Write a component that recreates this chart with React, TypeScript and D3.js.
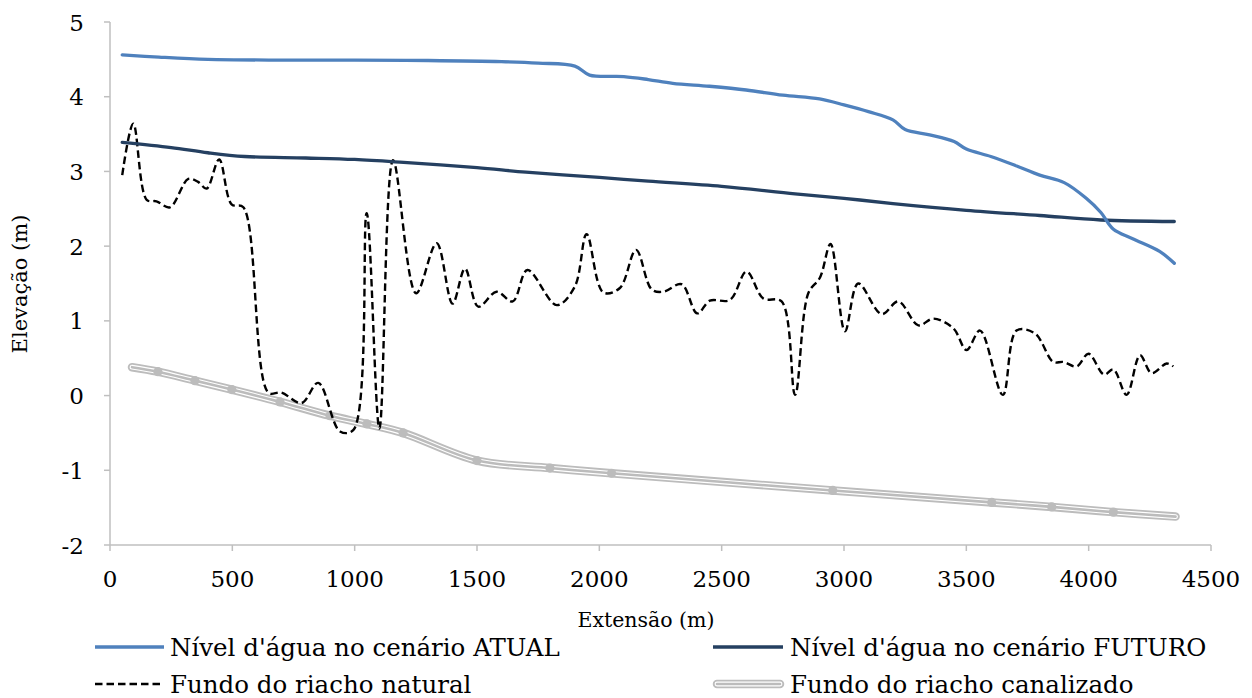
import React from "react";
import * as d3 from "d3";

// Distance along the stream (m) and elevation (m) for each profile
const atualX = [50, 200, 400, 700, 1000, 1300, 1600, 1750, 1900, 1960, 2100, 2200, 2300, 2450, 2600, 2750, 2900, 3000, 3100, 3200, 3250, 3350, 3450, 3500, 3600, 3700, 3800, 3900, 3990, 4050, 4100, 4180, 4290, 4350];
const atualY = [4.56, 4.53, 4.5, 4.49, 4.49, 4.485, 4.47, 4.45, 4.41, 4.29, 4.27, 4.23, 4.18, 4.14, 4.09, 4.02, 3.97, 3.89, 3.8, 3.69, 3.56, 3.49, 3.4, 3.3, 3.2, 3.08, 2.95, 2.85, 2.64, 2.45, 2.23, 2.1, 1.93, 1.77];

const futuroX = [50, 250, 400, 550, 800, 1000, 1200, 1500, 1700, 2000, 2200, 2500, 2800, 3000, 3200, 3500, 3800, 4050, 4350];
const futuroY = [3.39, 3.32, 3.25, 3.2, 3.18, 3.16, 3.12, 3.05, 2.99, 2.92, 2.87, 2.8, 2.7, 2.64, 2.57, 2.48, 2.41, 2.35, 2.33];

const naturalX = [50, 95, 150, 190, 245, 320, 360, 395, 446, 497, 545, 647, 700, 783, 851, 940, 995, 1049, 1101, 1157, 1251, 1335, 1400, 1451, 1505, 1580, 1646, 1706, 1826, 1900, 1948, 2016, 2084, 2150, 2214, 2262, 2336, 2400, 2452, 2534, 2602, 2670, 2745, 2800, 2854, 2902, 2945, 3004, 3058, 3154, 3222, 3304, 3365, 3447, 3501, 3556, 3649, 3705, 3781, 3855, 3896, 3951, 3999, 4063, 4101, 4155, 4210, 4257, 4319, 4346];
const naturalY = [2.95, 3.64, 2.62, 2.6, 2.52, 2.9, 2.86, 2.77, 3.16, 2.56, 2.52, 0.04, 0.04, -0.1, 0.17, -0.48, -0.46, 2.44, -0.44, 3.15, 1.37, 2.04, 1.23, 1.7, 1.19, 1.39, 1.26, 1.68, 1.21, 1.46, 2.16, 1.38, 1.44, 1.95, 1.42, 1.39, 1.49, 1.1, 1.27, 1.28, 1.66, 1.3, 1.26, 0.01, 1.37, 1.58, 2.03, 0.86, 1.5, 1.09, 1.26, 0.94, 1.03, 0.9, 0.61, 0.87, 0.01, 0.87, 0.83, 0.45, 0.45, 0.39, 0.56, 0.28, 0.35, 0.01, 0.54, 0.3, 0.43, 0.39];

const canalX = [90, 196, 347, 498, 695, 899, 1050, 1198, 1500, 1798, 2050, 2954, 3604, 3849, 4101, 4355];
const canalY = [0.38, 0.32, 0.2, 0.08, -0.085, -0.27, -0.38, -0.5, -0.87, -0.97, -1.04, -1.27, -1.43, -1.49, -1.56, -1.62];

const xTicks = [0, 500, 1000, 1500, 2000, 2500, 3000, 3500, 4000, 4500];
const yTicks = [-2, -1, 0, 1, 2, 3, 4, 5];

const legendLabels = [
  "Nível d'água no cenário ATUAL",
  "Nível d'água no cenário FUTURO",
  "Fundo do riacho natural",
  "Fundo do riacho canalizado",
];

const W = 1252;
const H = 698;
const FONT = "DejaVu Serif";
const AXIS = "#bfbfbf";
const C_ATUAL = "#4f81bd";
const C_FUTURO = "#254061";
const C_CANAL = "#bcbcbc";

type Pt = [number, number];
const zip = (xs: number[], ys: number[]): Pt[] => xs.map((x, i) => [x, ys[i]]);

// Compound grey "double" stroke used for the channelized bed
function CanalStroke({ d }: { d: string }) {
  return (
    <g fill="none" strokeLinecap="round" strokeLinejoin="round">
      <path d={d} stroke={C_CANAL} strokeWidth={8.5} />
      <path d={d} stroke="#fff" strokeWidth={4.8} />
      <path d={d} stroke={C_CANAL} strokeWidth={2.6} />
    </g>
  );
}

export default function App() {
  const x = d3.scaleLinear().domain([0, 4500]).range([110, 1211]);
  const y = d3.scaleLinear().domain([-2, 5]).range([545, 22]);

  const line = d3
    .line<Pt>()
    .x((d) => x(d[0]))
    .y((d) => y(d[1]))
    .curve(d3.curveCatmullRom.alpha(0.5));

  const atual = line(zip(atualX, atualY)) || "";
  const futuro = line(zip(futuroX, futuroY)) || "";
  const natural = line(zip(naturalX, naturalY)) || "";
  const canalPts = zip(canalX, canalY);
  const canal = line(canalPts) || "";

  const [x0, x1] = x.range();
  const [yb, yt] = y.range();

  const row1 = 647;
  const row2 = 684;

  return (
    <svg width={W} height={H} style={{ position: "absolute", left: 0, top: 0, background: "#fff" }}>
      <rect x={0} y={0} width={W} height={H} fill="#fff" />

      {/* axes */}
      <line x1={x0} x2={x0} y1={yt} y2={yb} stroke={AXIS} strokeWidth={1.5} />
      <line x1={x0} x2={x1} y1={yb} y2={yb} stroke={AXIS} strokeWidth={1.5} />
      {yTicks.map((t) => (
        <g key={"y" + t}>
          <line x1={x0 - 6} x2={x0} y1={y(t)} y2={y(t)} stroke={AXIS} strokeWidth={1.5} />
          <text x={84} y={y(t) + 8.5} textAnchor="end" fontSize={23} fontFamily={FONT} fill="#000">
            {t}
          </text>
        </g>
      ))}
      {xTicks.map((t) => (
        <g key={"x" + t}>
          <line x1={x(t)} x2={x(t)} y1={yb} y2={yb + 6} stroke={AXIS} strokeWidth={1.5} />
          <text x={x(t)} y={587} textAnchor="middle" fontSize={23} fontFamily={FONT} fill="#000">
            {t}
          </text>
        </g>
      ))}

      {/* axis titles */}
      <text x={646} y={627} textAnchor="middle" fontSize={20.5} fontFamily={FONT} fill="#000">
        Extensão (m)
      </text>
      <text transform="translate(27,284) rotate(-90)" textAnchor="middle" fontSize={21} fontFamily={FONT} fill="#000">
        Elevação (m)
      </text>

      {/* channelized stream bed */}
      <CanalStroke d={canal} />
      {canalPts.slice(1, -1).map((p, i) => (
        <circle key={i} cx={x(p[0])} cy={y(p[1])} r={4.6} fill={C_CANAL} />
      ))}

      {/* natural stream bed */}
      <path d={natural} fill="none" stroke="#000" strokeWidth={2.4} strokeDasharray="7.5 4" />

      {/* water levels */}
      <path d={futuro} fill="none" stroke={C_FUTURO} strokeWidth={3.3} strokeLinecap="round" />
      <path d={atual} fill="none" stroke={C_ATUAL} strokeWidth={3.3} strokeLinecap="round" />

      {/* legend */}
      <g fontSize={24.5} fontFamily={FONT} fill="#000">
        <line x1={95} x2={164} y1={row1} y2={row1} stroke={C_ATUAL} strokeWidth={3.3} />
        <text x={170} y={row1 + 8.8}>{legendLabels[0]}</text>

        <line x1={713} x2={783} y1={row1} y2={row1} stroke={C_FUTURO} strokeWidth={3.3} />
        <text x={790} y={row1 + 8.8}>{legendLabels[1]}</text>

        <line x1={95} x2={164} y1={row2} y2={row2} stroke="#000" strokeWidth={2.4} strokeDasharray="7.5 4" />
        <text x={170} y={row2 + 8.8}>{legendLabels[2]}</text>

        <CanalStroke d={`M${717},${row2}L${780},${row2}`} />
        <text x={790} y={row2 + 8.8}>{legendLabels[3]}</text>
      </g>
    </svg>
  );
}
